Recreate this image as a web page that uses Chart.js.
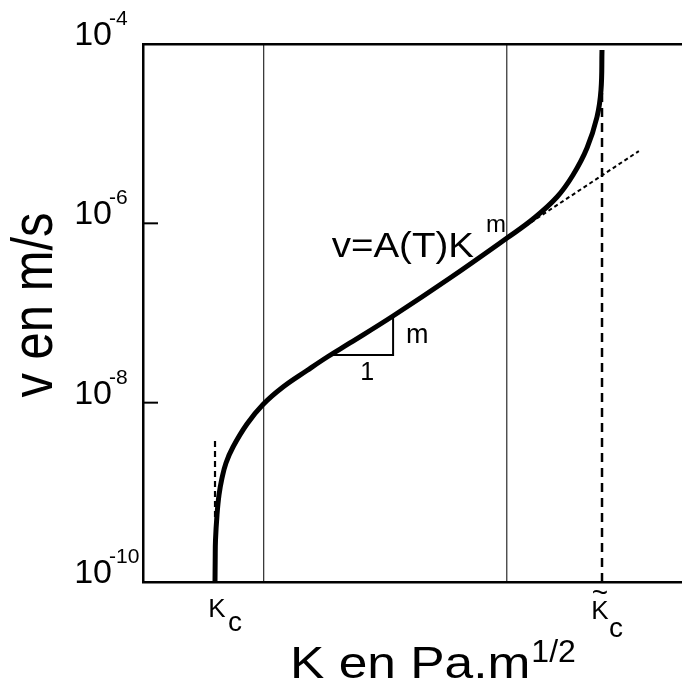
<!DOCTYPE html>
<html>
<head>
<meta charset="utf-8">
<script src="https://cdn.jsdelivr.net/npm/chart.js@4.4.1/dist/chart.umd.min.js"></script>
<style>
  html, body { margin: 0; padding: 0; background: #fff; }
  canvas { display: block; }
</style>
</head>
<body>
<canvas id="crackChart" width="682" height="692"></canvas>
<script>
// --- data (K in arbitrary units, v in m/s) ---
const kCurve = [13.358, 13.395, 13.451, 13.729, 14.100, 14.657, 15.399, 16.698, 19.295, 22.263, 25.974, 30.427, 34.323, 38.404, 46.382, 56.957, 67.532, 72.356, 76.809, 79.777, 82.375, 84.230, 84.972, 85.158];
const vCurve = [1e-10, 1.758e-10, 2.94e-10, 5.59e-10, 9.34e-10, 1.444e-9, 2.124e-9, 3.203e-9, 5.78e-9, 9.54e-9, 1.495e-8, 2.284e-8, 3.272e-8, 4.63e-8, 9.26e-8, 2.457e-7, 6.86e-7, 1.117e-6, 1.966e-6, 3.46e-6, 6.92e-6, 1.534e-5, 3.07e-5, 8.57e-5];

const Kc = 13.36;
const KcTilde = 85.16;
const regionBounds = [22.4, 67.5];          // thin vertical lines
const kcTangentV = [5.3e-10, 4.1e-9];       // dashed line at Kc
const kcTildeV = [1e-10, 3.07e-5];          // dashed line at K~c
const powerLawK = [70.9, 92.0];             // dotted tangent v = A(T) K^m
const powerLawV = [9.3e-7, 6.4e-6];
const slopeK = [34.3, 46.4, 46.4];          // slope triangle
const slopeV = [3.4e-8, 3.4e-8, 9.5e-8];

const yTickValues = [1e-10, 1e-8, 1e-6, 1e-4];
const kMin = 0, kMax = 100;

const FONT = '"Liberation Sans", Arial, Helvetica, sans-serif';

const pts = (xs, ys) => xs.map((x, i) => ({ x: x, y: ys[i] }));

// helper to draw (optionally stretched) text
function txt(ctx, s, x, y, size, align, sx) {
    ctx.save();
    ctx.font = size + 'px ' + FONT;
    ctx.textAlign = align || 'left';
    ctx.textBaseline = 'alphabetic';
    ctx.fillStyle = '#000';
    ctx.translate(x, y);
    ctx.scale(sx || 1, 1);
    ctx.fillText(s, 0, 0);
    ctx.restore();
}
function textWidth(ctx, s, size, sx) {
    ctx.save();
    ctx.font = size + 'px ' + FONT;
    const w = ctx.measureText(s).width * (sx || 1);
    ctx.restore();
    return w;
}

// --- labels, inward ticks and axis titles ---
const annotations = {
    id: 'annotations',
    afterDraw(chart) {
        const ctx = chart.ctx;
        const xs = chart.scales.x, ys = chart.scales.y;
        const area = chart.chartArea;

        // y ticks: inward marks + 10^n labels
        ys.ticks.forEach(t => {
            const py = ys.getPixelForValue(t.value);
            if (t.value !== ys.min && t.value !== ys.max) {
                ctx.save();
                ctx.strokeStyle = '#000';
                ctx.lineWidth = 2;
                ctx.beginPath();
                ctx.moveTo(area.left, py);
                ctx.lineTo(area.left + 15, py);
                ctx.stroke();
                ctx.restore();
            }
            const exp = Math.round(Math.log10(t.value));
            txt(ctx, '10', area.left - 31, py + 1, 34, 'right');
            txt(ctx, String(exp), area.left - 34, py - 19, 21, 'left');
        });

        // x labels Kc and K~c
        const bottom = area.bottom;
        const pKc = xs.getPixelForValue(Kc);
        txt(ctx, 'K', pKc + 2, bottom + 35, 26, 'center');
        txt(ctx, 'c', pKc + 13, bottom + 49, 28, 'left');
        const pKt = xs.getPixelForValue(KcTilde);
        txt(ctx, '~', pKt - 2, bottom + 20, 28, 'center');
        txt(ctx, 'K', pKt - 2, bottom + 37, 26, 'center');
        txt(ctx, 'c', pKt + 7, bottom + 55, 28, 'left');

        // formula v=A(T)K^m
        const fx = xs.getPixelForValue(35.0), fy = ys.getPixelForValue(4.2e-7);
        txt(ctx, 'v=A(T)K', fx, fy, 35, 'left', 1.1);
        const fw = textWidth(ctx, 'v=A(T)K', 35, 1.1);
        txt(ctx, 'm', fx + fw + 12, fy - 25, 24, 'left');

        // slope triangle labels
        txt(ctx, 'm', xs.getPixelForValue(48.8), ys.getPixelForValue(4.6e-8), 27, 'left');
        txt(ctx, '1', xs.getPixelForValue(41.6), ys.getPixelForValue(1.79e-8), 25, 'center');

        // x title with superscript
        const tx = 290, ty = 678;
        txt(ctx, 'K en Pa.m', tx, ty, 44, 'left', 1.17);
        const tw = textWidth(ctx, 'K en Pa.m', 44, 1.17);
        txt(ctx, '1/2', tx + tw + 1, ty - 16, 32, 'left');

        // y title, rotated
        ctx.save();
        ctx.font = '49px ' + FONT;
        ctx.fillStyle = '#000';
        ctx.textAlign = 'center';
        ctx.textBaseline = 'alphabetic';
        ctx.translate(52, (area.top + area.bottom) / 2 - 8);
        ctx.scale(1.16, 1);
        ctx.rotate(-Math.PI / 2);
        ctx.fillText('v en m/s', 0, 0);
        ctx.restore();
    }
};

const blackBorder = { display: true, color: '#000', width: 2.5 };

const ctx = document.getElementById('crackChart').getContext('2d');
new Chart(ctx, {
    type: 'line',
    data: {
        datasets: [
            {   // region boundaries
                data: pts([regionBounds[0], regionBounds[0]], [1e-10, 1e-4]),
                borderColor: '#000', borderWidth: 1, pointRadius: 0
            },
            {
                data: pts([regionBounds[1], regionBounds[1]], [1e-10, 1e-4]),
                borderColor: '#000', borderWidth: 1, pointRadius: 0
            },
            {   // dashed at Kc
                data: pts([Kc, Kc], kcTangentV),
                borderColor: '#000', borderWidth: 2.2, borderDash: [6, 4], pointRadius: 0
            },
            {   // dashed at K~c
                data: pts([KcTilde, KcTilde], kcTildeV),
                borderColor: '#000', borderWidth: 2.5, borderDash: [9, 6], pointRadius: 0
            },
            {   // power law tangent
                data: pts(powerLawK, powerLawV),
                borderColor: '#000', borderWidth: 2, borderDash: [4, 3], pointRadius: 0
            },
            {   // slope triangle
                data: pts(slopeK, slopeV),
                borderColor: '#000', borderWidth: 2, pointRadius: 0
            },
            {   // v-K curve
                data: pts(kCurve, vCurve),
                borderColor: '#000', borderWidth: 5, pointRadius: 0,
                tension: 0.4, borderCapStyle: 'butt', borderJoinStyle: 'round'
            }
        ]
    },
    options: {
        responsive: false,
        animation: false,
        layout: { padding: 0 },
        plugins: {
            legend: { display: false },
            tooltip: { enabled: false }
        },
        scales: {
            x: {
                type: 'linear', position: 'bottom', min: kMin, max: kMax,
                ticks: { display: false },
                grid: { display: false },
                border: blackBorder,
                afterFit: s => { s.height = 110; }
            },
            xTop: {
                type: 'linear', position: 'top', min: kMin, max: kMax,
                ticks: { display: false },
                grid: { display: false },
                border: blackBorder,
                afterFit: s => { s.height = 44; }
            },
            y: {
                type: 'logarithmic', min: 1e-10, max: 1e-4,
                ticks: { display: false },
                grid: { display: false },
                border: blackBorder,
                afterBuildTicks: s => { s.ticks = yTickValues.map(v => ({ value: v })); },
                afterFit: s => { s.width = 143; }
            }
        }
    },
    plugins: [annotations]
});
</script>
</body>
</html>
